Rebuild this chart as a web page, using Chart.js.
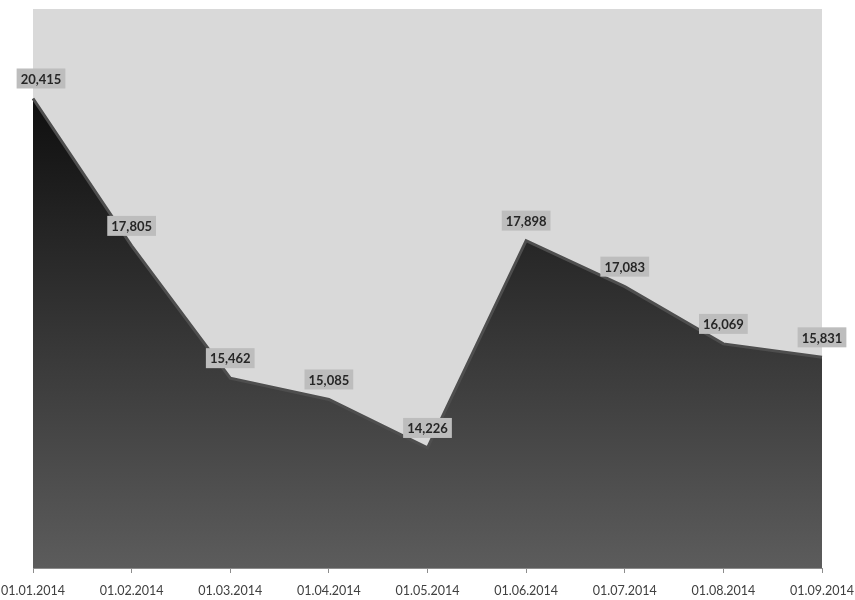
<!DOCTYPE html>
<html>
<head>
<meta charset="utf-8">
<script src="https://cdn.jsdelivr.net/npm/chart.js@4"></script>
<style>
  html, body { margin: 0; padding: 0; background: #fff; }
  #wrap { width: 855px; height: 600px; }
</style>
</head>
<body>
<div id="wrap"><canvas id="areaChart"></canvas></div>
<script>
// Dados
const dates = ["01.01.2014", "01.02.2014", "01.03.2014", "01.04.2014", "01.05.2014",
               "01.06.2014", "01.07.2014", "01.08.2014", "01.09.2014"];
const values = [20415, 17805, 15462, 15085, 14226, 17898, 17083, 16069, 15831];
const yMin = 12100;
const yMax = 22000;

// Fundo cinza da área do gráfico
const plotBg = {
  id: "plotBg",
  beforeDraw(chart) {
    const { ctx, chartArea: a } = chart;
    ctx.save();
    ctx.fillStyle = "#d9d9d9";
    ctx.fillRect(a.left, a.top, a.right - a.left, a.bottom - a.top);
    ctx.restore();
  }
};

// Rótulos com caixa cinza
const boxLabels = {
  id: "boxLabels",
  afterDatasetsDraw(chart) {
    const { ctx } = chart;
    const meta = chart.getDatasetMeta(0);
    ctx.save();
    ctx.font = "bold 13px Lato";
    ctx.textAlign = "center";
    ctx.textBaseline = "middle";
    meta.data.forEach((pt, i) => {
      const txt = values[i].toLocaleString("en-US");
      const w = ctx.measureText(txt).width + 8;
      const h = 20;
      const cx = pt.x + (i === 0 ? 8 : 0);
      const cy = pt.y - 20;
      ctx.fillStyle = "#bdbdbd";
      ctx.fillRect(cx - w / 2, cy - h / 2, w, h);
      ctx.fillStyle = "#262626";
      ctx.fillText(txt, cx, cy + 1);
    });
    ctx.restore();
  }
};

function areaGradient(context) {
  const area = context.chart.chartArea;
  if (!area) return "#333";
  const g = context.chart.ctx.createLinearGradient(0, area.top, 0, area.bottom);
  g.addColorStop(0, "#000000");
  g.addColorStop(1, "#5c5c5c");
  return g;
}

document.addEventListener("DOMContentLoaded", () => {
  new Chart(document.getElementById("areaChart"), {
    type: "line",
    data: {
      labels: dates,
      datasets: [{
        data: values,
        fill: "start",
        backgroundColor: areaGradient,
        borderColor: "#4e4e4e",
        borderWidth: 3,
        pointRadius: 0,
        tension: 0
      }]
    },
    options: {
      responsive: true,
      maintainAspectRatio: false,
      animation: false,
      layout: { padding: { left: 33, right: 33, top: 9, bottom: 0 } },
      scales: {
        x: {
          offset: false,
          border: { color: "#8c8c8c" },
          grid: { drawOnChartArea: false, tickLength: 5, color: "#8c8c8c" },
          ticks: { color: "#404040", font: { family: "Lato", size: 12.5 }, padding: 10, maxRotation: 0, autoSkip: false },
          afterFit(scale) {
            scale.paddingLeft = 0;
            scale.paddingRight = 0;
            scale.height = 32;
          }
        },
        y: { display: false, min: yMin, max: yMax }
      },
      plugins: { legend: { display: false }, tooltip: { enabled: false } }
    },
    plugins: [plotBg, boxLabels]
  });
});
</script>
</body>
</html>
